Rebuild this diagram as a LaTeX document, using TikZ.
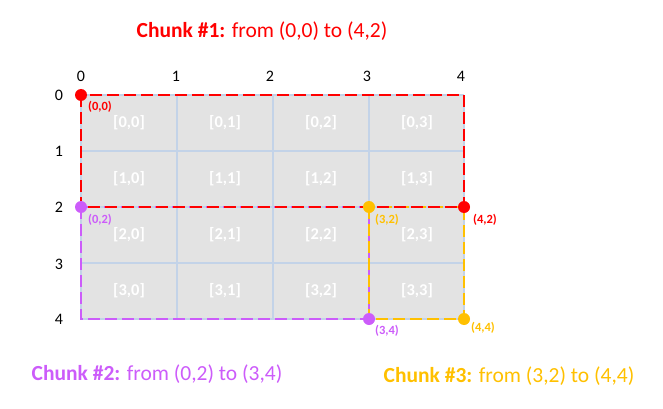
\documentclass[tikz,border=0pt]{standalone}
\usepackage{fontspec}
\setmainfont{Carlito}
\definecolor{cred}{HTML}{FF0000}
\definecolor{cpurple}{HTML}{CC5CFA}
\definecolor{corange}{HTML}{FFC000}
\definecolor{cellgray}{HTML}{E3E3E3}
\definecolor{gridblue}{HTML}{C3D3E8}
\begin{document}
\begin{tikzpicture}[x=1pt,y=-1pt,
  celltxt/.style={text=white,font=\bfseries\fontsize{16.5}{18}\selectfont},
  axistxt/.style={font=\fontsize{16}{18}\selectfont},
  ptxt/.style={font=\bfseries\fontsize{12.5}{14}\selectfont,anchor=center},
  dot/.style={circle,inner sep=0pt,minimum size=12pt},
  chunk/.style={line width=1.5pt,dash pattern=on 12pt off 5pt},
  title/.style={font=\fontsize{21.5}{24}\selectfont}]
\useasboundingbox (0,0) rectangle (663,409);
% cells
\fill[cellgray] (81,95) rectangle (464,319);
\foreach \x in {81,177,273,369,464} \draw[gridblue,line width=1.2pt] (\x,95) -- (\x,319);
\foreach \y in {95,151,207,263,319} \draw[gridblue,line width=1.2pt] (81,\y) -- (464,\y);
% cell labels
\foreach \r/\y in {0/123,1/179,2/235,3/291}
  \foreach \c/\x in {0/129,1/225,2/321,3/417}
    \node[celltxt] (cell\r\c) at (\x,\y) {[\r,\c]};
% axis labels
\foreach \i/\x in {0/81,1/176,2/270,3/367,4/461}
  \node[axistxt] (xa\i) at (\x,76) {\i};
\foreach \i/\y in {0/95,1/151,2/207,3/264,4/319}
  \node[axistxt] (ya\i) at (59,\y) {\i};
% chunk outlines
\draw[chunk,cpurple] (81,207) rectangle (369,319);
\draw[chunk,corange] (369,207) rectangle (464,319);
\draw[chunk,cred] (81,95) rectangle (464,207);
% dots
\node[dot,fill=cred] (p00) at (81,95) {};
\node[dot,fill=cred] (p42) at (464,207) {};
\node[dot,fill=cpurple] (p02) at (81,207) {};
\node[dot,fill=cpurple] (p34) at (369,319) {};
\node[dot,fill=corange] (p32) at (369,207) {};
\node[dot,fill=corange] (p44) at (464,319) {};
% point labels
\node[ptxt,text=cred] (l00) at (100,107) {(0,0)};
\node[ptxt,text=cpurple] (l02) at (100,220) {(0,2)};
\node[ptxt,text=corange] (l32) at (387,220) {(3,2)};
\node[ptxt,text=cred] (l42) at (485,220) {(4,2)};
\node[ptxt,text=cpurple] (l34) at (387,331) {(3,4)};
\node[ptxt,text=corange] (l44) at (483,328) {(4,4)};
% titles
\node[title,text=cred] (t1) at (262,31) {\textbf{Chunk \#1:} from (0,0) to (4,2)};
\node[title,text=cpurple] (t2) at (157,374) {\textbf{Chunk \#2:} from (0,2) to (3,4)};
\node[title,text=corange] (t3) at (509,376) {\textbf{Chunk \#3:} from (3,2) to (4,4)};
\end{tikzpicture}
\end{document}
